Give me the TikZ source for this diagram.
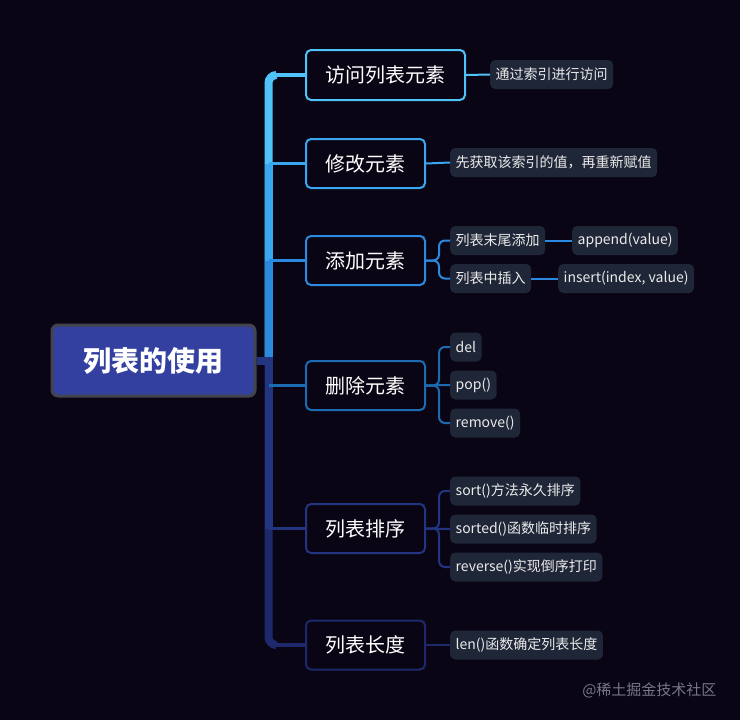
\documentclass[tikz,border=0pt]{standalone}
\usepackage{fontspec}
\setmainfont{Noto Sans CJK SC}
\usetikzlibrary{calc}
\definecolor{bg}{HTML}{0A0514}
\definecolor{rootfill}{HTML}{3340A0}
\definecolor{rootline}{HTML}{44444F}
\definecolor{leaffill}{HTML}{1F2637}
\definecolor{ca}{HTML}{4FC3F7}
\definecolor{cb}{HTML}{3AA6F0}
\definecolor{cc}{HTML}{2B8AE0}
\definecolor{cd}{HTML}{1A6BB2}
\definecolor{ce}{HTML}{233580}
\definecolor{cf}{HTML}{1D296A}
\definecolor{wm}{HTML}{77778A}
\begin{document}
\begin{tikzpicture}[x=1pt,y=-1pt,
  rootbox/.style={draw=rootline, line width=3pt, fill=rootfill, rounded corners=6pt,
    minimum width=203pt, minimum height=71pt, text=white, inner sep=0pt,
    font=\fontsize{28}{30}\selectfont\bfseries},
  childbox/.style={draw, line width=2pt, fill=bg, rounded corners=5pt,
    minimum width=119pt, minimum height=49pt, text=white, inner sep=0pt,
    font=\fontsize{20}{24}\selectfont, anchor=west},
  leafbox/.style={fill=leaffill, rounded corners=5pt, minimum height=29pt,
    inner xsep=5.5pt, inner ysep=0pt, text=white!92!black,
    font=\fontsize{14}{16}\selectfont, anchor=west},
  trunk/.style={line width=8pt, rounded corners=8pt},
  branch/.style={line width=3.5pt},
  twig/.style={line width=2pt, rounded corners=6pt}]
\useasboundingbox (0,0) rectangle (740,720);
\fill[bg] (0,0) rectangle (740,720);

% nodes
\node[rootbox] (root) at (153.5,360.5) {列表的使用};
\node[childbox, draw=ca, minimum width=159pt, minimum height=50pt] (c1) at (305,75) {访问列表元素};
\node[childbox, draw=cb] (c2) at (305,163.5) {修改元素};
\node[childbox, draw=cc] (c3) at (305,260.5) {添加元素};
\node[childbox, draw=cd] (c4) at (305,385.5) {删除元素};
\node[childbox, draw=ce] (c5) at (305,528.5) {列表排序};
\node[childbox, draw=cf] (c6) at (305,645) {列表长度};

\node[leafbox] (l1) at (490,74.5) {通过索引进行访问};
\node[leafbox] (l2) at (450,162.5) {先获取该索引的值，再重新赋值};
\node[leafbox] (l3a) at (450,240.5) {列表末尾添加};
\node[leafbox] (l3a1) at (572,240.5) {append(value)};
\node[leafbox] (l3b) at (450,278.5) {列表中插入};
\node[leafbox] (l3b1) at (558,278.5) {insert(index, value)};
\node[leafbox] (l4a) at (450,347) {del};
\node[leafbox] (l4b) at (450,385) {pop()};
\node[leafbox] (l4c) at (450,423) {remove()};
\node[leafbox] (l5a) at (450,491) {sort()方法永久排序};
\node[leafbox] (l5b) at (450,529) {sorted()函数临时排序};
\node[leafbox] (l5c) at (450,567) {reverse()实现倒序打印};
\node[leafbox] (l6) at (450,645) {len()函数确定列表长度};

\node[anchor=east, text=wm, font=\fontsize{15}{18}\selectfont] (wmk) at (720,690) {@稀土掘金技术社区};

% trunk and branches
\coordinate (tr) at ($(root.east)+(12,0)$);
% outer branches with rounded corner
\foreach \c/\col in {c1/ca,c6/cf}{
  \draw[trunk,\col] (tr) -- (tr|-\c.west) -- ++(8,0);
  \draw[branch,\col] ($(tr|-\c.west)+(6,0)$) -- (\c.west);
}
% inner branches
\foreach \c/\col in {c2/cb,c3/cc,c4/cd,c5/ce}{
  \draw[line width=8pt,\col] (tr) -- (tr|-\c.west);
}
\foreach \c/\col in {c2/cb,c3/cc,c4/cd,c5/ce}{
  \draw[branch,\col] (tr|-\c.west) -- (\c.west);
}
\draw[line width=8pt,ce] (root.east) -- ($(tr)+(4,0)$);

% child to leaf
\draw[twig,ca] (c1.east) -- (l1.west);
\draw[twig,cb] (c2.east) -- (l2.west);
\draw[twig,cc] (c3.east) -- ++(13,0) |- (l3a.west);
\draw[twig,cc] (c3.east) -- ++(13,0) |- (l3b.west);
\draw[twig,cc] (l3a.east) -- (l3a1.west);
\draw[twig,cc] (l3b.east) -- (l3b1.west);
\draw[twig,cd] (c4.east) -- ++(13,0) |- (l4a.west);
\draw[twig,cd] (c4.east) -- (l4b.west);
\draw[twig,cd] (c4.east) -- ++(13,0) |- (l4c.west);
\draw[twig,ce] (c5.east) -- ++(13,0) |- (l5a.west);
\draw[twig,ce] (c5.east) -- (l5b.west);
\draw[twig,ce] (c5.east) -- ++(13,0) |- (l5c.west);
\draw[twig,cf] (c6.east) -- (l6.west);
\end{tikzpicture}
\end{document}
